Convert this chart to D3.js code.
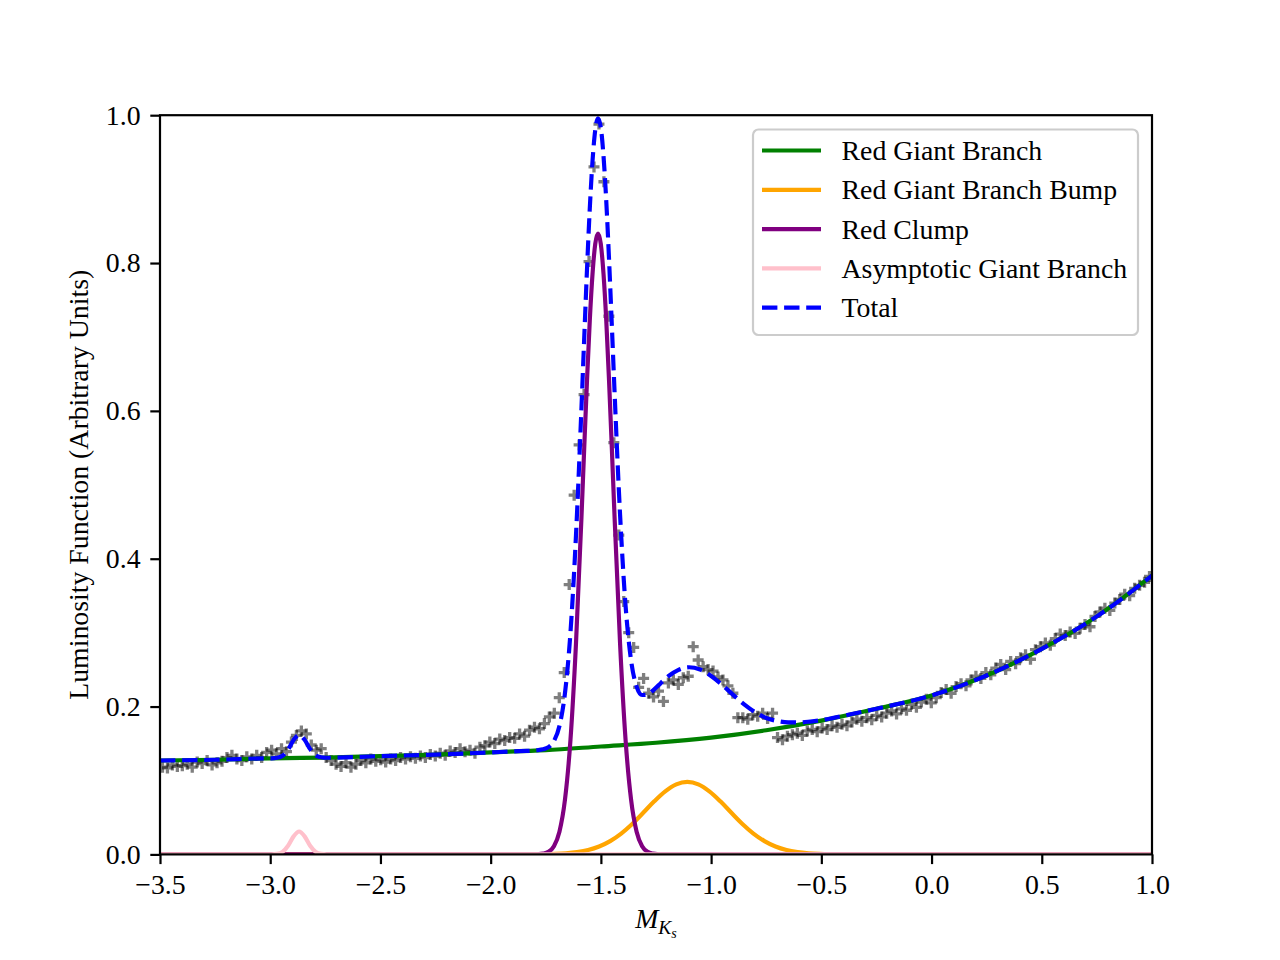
<!DOCTYPE html>
<html lang="en">
<head>
<meta charset="UTF-8">
<title>Luminosity Function</title>
<script src="https://cdnjs.cloudflare.com/ajax/libs/d3/7.8.5/d3.min.js"></script>
<style>
    body { margin: 0; background: #fff; }
    svg { display: block; font-family: 'Liberation Serif', 'Times New Roman', serif; }
    svg text { font-family: 'Liberation Serif', 'Times New Roman', serif; }
    .tick text { font-size: 27.8px; fill: #000; }
    .tick line { stroke: #000; stroke-width: 2.2px; }
</style>
</head>
<body>
<svg id="chart" width="1280" height="960"></svg>
<script>
// x range of the histogram (bin centres come from these)
const xMin = -3.5, xMax = 1.0, nBins = 200;

// observed luminosity function, one value per bin
const observed = [
    0.118,0.117,0.121,0.119,0.120,0.122,0.118,0.125,0.123,0.127,
    0.121,0.124,0.126,0.131,0.134,0.129,0.127,0.132,0.129,0.134,
    0.131,0.138,0.141,0.136,0.143,0.139,0.152,0.161,0.167,0.163,
    0.148,0.141,0.143,0.131,0.127,0.122,0.119,0.124,0.118,0.122,
    0.127,0.124,0.129,0.126,0.128,0.125,0.129,0.127,0.131,0.129,
    0.132,0.130,0.133,0.131,0.135,0.133,0.137,0.134,0.140,0.138,
    0.143,0.139,0.141,0.137,0.145,0.147,0.152,0.150,0.156,0.154,
    0.158,0.157,0.163,0.160,0.168,0.172,0.170,0.177,0.186,0.191,
    0.212,0.246,0.365,0.486,0.554,0.622,0.802,0.930,0.988,0.910,
    0.728,0.557,0.432,0.342,0.300,0.280,0.226,0.238,0.218,0.213,
    0.221,0.207,0.232,0.236,0.230,0.239,0.241,0.281,0.263,0.254,
    0.250,0.248,0.240,0.236,0.228,0.218,0.185,0.185,0.183,0.189,
    0.187,0.191,0.184,0.191,0.158,0.155,0.160,0.162,0.164,0.161,
    0.167,0.169,0.166,0.171,0.169,0.174,0.172,0.176,0.174,0.179,
    0.183,0.180,0.185,0.182,0.188,0.186,0.191,0.194,0.190,0.197,
    0.195,0.203,0.199,0.206,0.210,0.205,0.212,0.219,0.223,0.218,
    0.227,0.231,0.228,0.236,0.241,0.238,0.246,0.243,0.252,0.257,
    0.250,0.261,0.258,0.266,0.270,0.264,0.277,0.281,0.286,0.283,
    0.292,0.298,0.296,0.301,0.299,0.306,0.311,0.308,0.322,0.328,
    0.333,0.330,0.340,0.345,0.352,0.350,0.360,0.364,0.368,0.376
];

// model components, [M_Ks, value] pairs
const rgbCurve = [
    [-3.5,0.127],[-3.25,0.128],[-3.0,0.130],[-2.75,0.131],[-2.5,0.133],[-2.25,0.135],
    [-2.0,0.138],[-1.75,0.141],[-1.5,0.146],[-1.25,0.151],[-1.0,0.158],[-0.75,0.168],
    [-0.5,0.181],[-0.25,0.197],[0.0,0.215],[0.25,0.242],[0.5,0.278],[0.75,0.322],[1.0,0.377]
];
const bumpCurve = [
    [-3.5,0],[-1.908,0],[-1.808,0.0001],[-1.708,0.0007],[-1.658,0.0015],[-1.608,0.0031],
    [-1.558,0.0059],[-1.508,0.0107],[-1.458,0.018],[-1.408,0.0282],[-1.358,0.0412],
    [-1.308,0.0563],[-1.258,0.0718],[-1.208,0.0853],[-1.158,0.0947],[-1.108,0.098],
    [-1.058,0.0947],[-1.008,0.0853],[-0.958,0.0718],[-0.908,0.0563],[-0.858,0.0412],
    [-0.808,0.0282],[-0.758,0.018],[-0.708,0.0107],[-0.658,0.0059],[-0.608,0.0031],
    [-0.558,0.0015],[-0.508,0.0007],[-0.408,0.0001],[-0.308,0],[1.0,0]
];
const clumpCurve = [
    [-3.5,0],[-1.813,0],[-1.788,0.0002],[-1.763,0.001],[-1.738,0.0035],[-1.713,0.0111],
    [-1.688,0.0307],[-1.663,0.0738],[-1.638,0.155],[-1.613,0.285],[-1.588,0.457],
    [-1.5755,0.5506],[-1.563,0.641],[-1.5505,0.7215],[-1.538,0.785],[-1.5255,0.826],
    [-1.513,0.840],[-1.5005,0.826],[-1.488,0.785],[-1.4755,0.7215],[-1.463,0.641],
    [-1.4505,0.5506],[-1.438,0.457],[-1.413,0.285],[-1.388,0.155],[-1.363,0.0738],
    [-1.338,0.0307],[-1.313,0.0111],[-1.288,0.0035],[-1.263,0.001],[-1.238,0.0002],
    [-1.213,0],[1.0,0]
];
const agbCurve = [
    [-3.5,0],[-2.994,0],[-2.969,0.0007],[-2.944,0.0035],[-2.919,0.0118],[-2.894,0.0244],
    [-2.869,0.031],[-2.844,0.0244],[-2.819,0.0118],[-2.794,0.0035],[-2.769,0.0007],
    [-2.744,0],[1.0,0]
];
const totalCurve = [
    [-3.5,0.127],[-3.25,0.128],[-3.0,0.130],[-2.994,0.1300],[-2.969,0.1307],[-2.944,0.1335],
    [-2.919,0.1418],[-2.894,0.1549],[-2.869,0.1615],[-2.844,0.1550],[-2.819,0.1424],
    [-2.794,0.1341],[-2.769,0.1314],[-2.744,0.1307],[-2.5,0.133],[-2.25,0.135],[-2.0,0.138],
    [-1.9,0.1393],[-1.838,0.1400],[-1.813,0.1403],[-1.788,0.1409],[-1.763,0.1421],
    [-1.738,0.1451],[-1.713,0.1534],[-1.688,0.1738],[-1.663,0.2179],[-1.638,0.3002],
    [-1.613,0.4316],[-1.588,0.6052],[-1.5755,0.6994],[-1.563,0.7913],[-1.5505,0.873],
    [-1.538,0.9378],[-1.5255,0.9803],[-1.513,0.9958],[-1.5005,0.9836],[-1.488,0.9445],
    [-1.4755,0.8831],[-1.463,0.8048],[-1.4505,0.7169],[-1.438,0.6259],[-1.413,0.4597],
    [-1.388,0.3363],[-1.363,0.2623],[-1.338,0.2270],[-1.313,0.2156],[-1.288,0.2163],
    [-1.263,0.2220],[-1.238,0.2290],[-1.213,0.2361],[-1.188,0.2424],[-1.15,0.2494],
    [-1.1,0.2532],[-1.05,0.2501],[-1.0,0.2414],[-0.95,0.2294],[-0.9,0.2158],[-0.85,0.2030],
    [-0.8,0.1923],[-0.75,0.1846],[-0.7,0.1804],[-0.65,0.1786],[-0.6,0.1785],[-0.55,0.1797],
    [-0.5,0.1816],[-0.45,0.1844],[-0.4,0.1875],[-0.25,0.197],[0.0,0.215],[0.25,0.242],
    [0.5,0.278],[0.75,0.322],[1.0,0.377]
];

const xTicks = [-3.5, -3.0, -2.5, -2.0, -1.5, -1.0, -0.5, 0.0, 0.5, 1.0];
const yTicks = [0.0, 0.2, 0.4, 0.6, 0.8, 1.0];

const series = [
    { name: "Red Giant Branch", data: rgbCurve, color: "#008000" },
    { name: "Red Giant Branch Bump", data: bumpCurve, color: "#FFA500" },
    { name: "Red Clump", data: clumpCurve, color: "#800080" },
    { name: "Asymptotic Giant Branch", data: agbCurve, color: "#FFC0CB" },
    { name: "Total", data: totalCurve, color: "#0000FF", dash: true }
];

const svg = d3.select("#chart");
const margin = { left: 160, right: 1152, top: 115.2, bottom: 854.4 };
const lw = 4.17;          // 1.5pt at 200 dpi
const dash = "15.4,6.7";

const x = d3.scaleLinear().domain([xMin, xMax]).range([margin.left, margin.right]);
const y = d3.scaleLinear().domain([0, 1]).range([margin.bottom, margin.top]);

svg.append("defs").append("clipPath").attr("id", "plotClip")
    .append("rect")
    .attr("x", margin.left).attr("y", margin.top)
    .attr("width", margin.right - margin.left)
    .attr("height", margin.bottom - margin.top);

const plot = svg.append("g").attr("clip-path", "url(#plotClip)");

// observed points as '+' markers
const binWidth = (xMax - xMin) / nBins;
const points = observed.map((v, i) => [xMin + binWidth * (i + 0.5), v]);
plot.selectAll(".obs")
    .data(points)
    .enter()
    .append("path")
    .attr("class", "obs")
    .attr("d", "M-5.5,0H5.5M0,-5.5V5.5")
    .attr("transform", d => `translate(${x(d[0])},${y(d[1])})`)
    .attr("stroke", "#000")
    .attr("stroke-opacity", 0.5)
    .attr("stroke-width", 3.3)
    .attr("fill", "none");

const line = d3.line()
    .x(d => x(d[0]))
    .y(d => y(d[1]))
    .curve(d3.curveMonotoneX);

series.forEach(s => {
    plot.append("path")
        .attr("d", line(s.data))
        .attr("fill", "none")
        .attr("stroke", s.color)
        .attr("stroke-width", lw)
        .attr("stroke-dasharray", s.dash ? dash : null);
});

// axes
const xAxis = d3.axisBottom(x).tickValues(xTicks).tickSize(9.7).tickPadding(9.7)
    .tickFormat(d => d3.format(".1f")(d).replace("-", "\u2212"));
const yAxis = d3.axisLeft(y).tickValues(yTicks).tickSize(9.7).tickPadding(9.7)
    .tickFormat(d3.format(".1f"));

svg.append("g").attr("transform", `translate(0,${margin.bottom})`).call(xAxis)
    .attr("font-family", null).attr("font-size", null)
    .call(g => g.select(".domain").remove());
svg.append("g").attr("transform", `translate(${margin.left},0)`).call(yAxis)
    .attr("font-family", null).attr("font-size", null)
    .call(g => g.select(".domain").remove());

svg.append("rect")
    .attr("x", margin.left).attr("y", margin.top)
    .attr("width", margin.right - margin.left)
    .attr("height", margin.bottom - margin.top)
    .attr("fill", "none")
    .attr("stroke", "#000")
    .attr("stroke-width", 2.2);

// axis labels
const xl = svg.append("text")
    .attr("x", 656).attr("y", 928)
    .attr("text-anchor", "middle")
    .attr("font-size", 27.8)
    .attr("font-style", "italic");
xl.append("tspan").text("M");
xl.append("tspan").attr("font-size", 19.5).attr("dy", 6).text("K");
xl.append("tspan").attr("font-size", 14).attr("dy", 4).text("s");

svg.append("text")
    .attr("transform", `translate(88,${(margin.top + margin.bottom) / 2}) rotate(-90)`)
    .attr("text-anchor", "middle")
    .attr("font-size", 27.8)
    .text("Luminosity Function (Arbitrary Units)");

// legend
const legend = svg.append("g");
legend.append("rect")
    .attr("x", 753).attr("y", 129.5)
    .attr("width", 385).attr("height", 205.5)
    .attr("rx", 5.5)
    .attr("fill", "#fff").attr("fill-opacity", 0.8)
    .attr("stroke", "#cccccc").attr("stroke-width", 2.2);

const rowY = d3.scaleLinear().domain([0, 1]).range([150.5, 189.8]);
series.forEach((s, i) => {
    const cy = rowY(i);
    legend.append("line")
        .attr("x1", 762).attr("x2", 821)
        .attr("y1", cy).attr("y2", cy)
        .attr("stroke", s.color)
        .attr("stroke-width", lw)
        .attr("stroke-dasharray", s.dash ? dash : null);
    legend.append("text")
        .attr("x", 841.5).attr("y", cy + 9.5)
        .attr("font-size", 27.8)
        .text(s.name);
});
</script>
</body>
</html>
